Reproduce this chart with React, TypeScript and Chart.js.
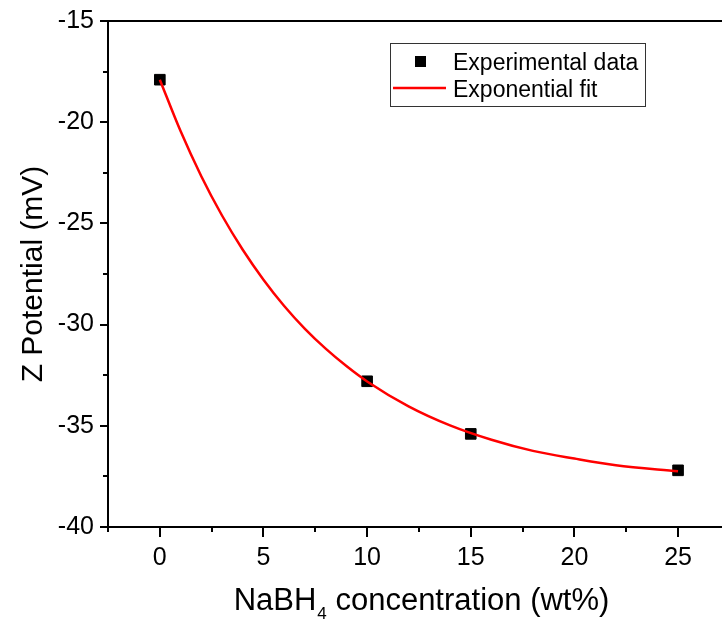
import React, { useEffect, useRef } from "react";
import { Chart, registerables } from "chart.js";

Chart.register(...registerables);

const FONT = "'Liberation Sans', Arial, sans-serif";

// Experimental data
const expX = [0, 10, 15, 25];
const expY = [-17.9, -32.8, -35.4, -37.2];

// Exponential fit curve
const fitX = [0, 1, 2, 3, 4, 5, 6, 7, 8, 9, 10, 12, 14, 16, 18, 20, 22, 25];
const fitY = [-17.9, -20.44, -22.67, -24.61, -26.3, -27.78, -29.08, -30.21, -31.19, -32.05, -32.81, -34.04, -34.98, -35.69, -36.24, -36.62, -36.95, -37.25];

// Axes
const xTicks = [0, 5, 10, 15, 20, 25];
const xMinorTicks = [-2.5, 2.5, 7.5, 12.5, 17.5, 22.5];
const yTicks = [-40, -35, -30, -25, -20, -15];
const yMinorTicks = [-37.5, -32.5, -27.5, -22.5, -17.5];

const legendLabels = ["Experimental data", "Exponential fit"];
const yTitle = "Z Potential (mV)";
const xTitleMain = "NaBH";
const xTitleSub = "4";
const xTitleRest = " concentration (wt%)";

const decorPlugin = {
  id: "decor",
  afterDraw(chart: any) {
    const { ctx, chartArea: ca, scales } = chart;
    const xs = scales.x;
    const ys = scales.y;
    ctx.save();
    ctx.strokeStyle = "#000";
    ctx.lineWidth = 2;
    // top frame line
    ctx.beginPath();
    ctx.moveTo(ca.left - 1, ca.top);
    ctx.lineTo(ca.right, ca.top);
    ctx.stroke();
    // minor ticks
    ctx.beginPath();
    xMinorTicks.forEach((v) => {
      const px = Math.round(xs.getPixelForValue(v));
      ctx.moveTo(px, ca.bottom);
      ctx.lineTo(px, ca.bottom + 5);
    });
    yMinorTicks.forEach((v) => {
      const py = Math.round(ys.getPixelForValue(v));
      ctx.moveTo(ca.left, py);
      ctx.lineTo(ca.left - 5, py);
    });
    ctx.stroke();

    // legend
    ctx.lineWidth = 1;
    ctx.strokeStyle = "#333";
    ctx.strokeRect(390.5, 43.5, 255, 63);
    ctx.fillStyle = "#000";
    ctx.fillRect(415, 56, 11, 11);
    ctx.strokeStyle = "#ff0000";
    ctx.lineWidth = 2.5;
    ctx.beginPath();
    ctx.moveTo(393, 88);
    ctx.lineTo(446, 88);
    ctx.stroke();
    ctx.fillStyle = "#000";
    ctx.font = `23px ${FONT}`;
    ctx.textAlign = "left";
    ctx.textBaseline = "alphabetic";
    ctx.fillText(legendLabels[0], 453, 70);
    ctx.fillText(legendLabels[1], 453, 97);

    // y title
    ctx.save();
    ctx.translate(42, (ca.top + ca.bottom) / 2);
    ctx.rotate(-Math.PI / 2);
    ctx.font = `30px ${FONT}`;
    ctx.textAlign = "center";
    ctx.fillText(yTitle, 0, 0);
    ctx.restore();

    // x title with subscript
    ctx.font = `31px ${FONT}`;
    const w1 = ctx.measureText(xTitleMain).width;
    const w3 = ctx.measureText(xTitleRest).width;
    ctx.font = `17px ${FONT}`;
    const w2 = ctx.measureText(xTitleSub).width;
    const total = w1 + w2 + w3;
    let sx = 421 - total / 2;
    ctx.textAlign = "left";
    ctx.font = `31px ${FONT}`;
    ctx.fillText(xTitleMain, sx, 610);
    sx += w1;
    ctx.font = `17px ${FONT}`;
    ctx.fillText(xTitleSub, sx + 1, 619);
    sx += w2 + 1;
    ctx.font = `31px ${FONT}`;
    ctx.fillText(xTitleRest, sx, 610);
    ctx.restore();
  },
};

export default function App() {
  const ref = useRef<HTMLCanvasElement | null>(null);
  useEffect(() => {
    if (!ref.current) return;
    const chart = new Chart(ref.current, {
      type: "scatter",
      data: {
        datasets: [
          {
            label: legendLabels[1],
            data: fitX.map((x, i) => ({ x, y: fitY[i] })),
            showLine: true,
            borderColor: "#ff0000",
            borderWidth: 2.5,
            pointRadius: 0,
            cubicInterpolationMode: "monotone",
            order: 0,
          } as any,
          {
            label: legendLabels[0],
            data: expX.map((x, i) => ({ x, y: expY[i] })),
            showLine: false,
            pointStyle: "rect",
            pointRadius: 7.5,
            pointBackgroundColor: "#000",
            pointBorderColor: "#000",
            pointBorderWidth: 1,
            order: 1,
          } as any,
        ],
      },
      options: {
        responsive: false,
        animation: false,
        devicePixelRatio: 1,
        layout: { autoPadding: false, padding: { top: 19, right: 0, left: 0, bottom: 0 } },
        plugins: { legend: { display: false }, tooltip: { enabled: false } },
        scales: {
          x: {
            type: "linear",
            min: -2.5,
            max: 27.12,
            afterBuildTicks: (s: any) => {
              s.ticks = xTicks.map((v) => ({ value: v }));
            },
            afterFit: (s: any) => {
              s.height = 93;
              s.paddingRight = 0;
              s.paddingLeft = 0;
            },
            grid: { drawOnChartArea: false, drawTicks: true, tickLength: 10, color: "#000", lineWidth: 2 },
            border: { color: "#000", width: 2 },
            ticks: { color: "#000", font: { size: 25, family: FONT }, padding: 6, maxRotation: 0, autoSkip: false },
          },
          y: {
            type: "linear",
            min: -40,
            max: -15,
            afterBuildTicks: (s: any) => {
              s.ticks = yTicks.map((v) => ({ value: v }));
            },
            afterFit: (s: any) => {
              s.width = 108;
            },
            grid: { drawOnChartArea: false, drawTicks: true, tickLength: 8, color: "#000", lineWidth: 2 },
            border: { color: "#000", width: 2 },
            ticks: { color: "#000", font: { size: 25, family: FONT }, padding: 6, autoSkip: false },
          },
        },
      },
      plugins: [decorPlugin],
    });
    return () => chart.destroy();
  }, []);
  return (
    <div style={{ position: "fixed", left: 0, top: 0, width: 722, height: 620, background: "#fff" }}>
      <canvas ref={ref} width={722} height={620} style={{ display: "block" }} />
    </div>
  );
}
